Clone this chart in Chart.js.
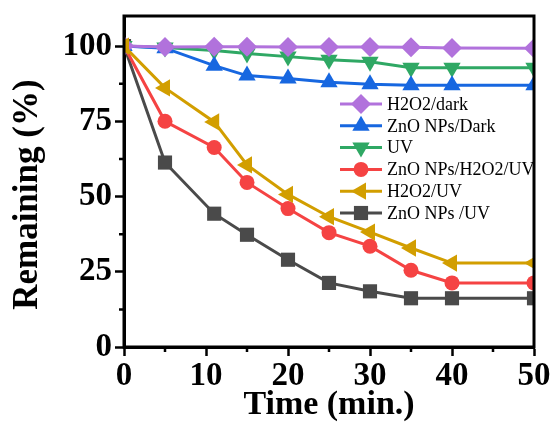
<!DOCTYPE html>
<html>
<head>
<meta charset="utf-8">
<script src="https://cdn.jsdelivr.net/npm/chart.js@4.4.1/dist/chart.umd.min.js"></script>
<style>
  html, body { margin: 0; padding: 0; background: #fff; }
  #chart { display: block; }
</style>
</head>
<body>
<canvas id="chart" width="553" height="435"></canvas>
<script>
// time points (min.)
const times = [0, 5, 11, 15, 20, 25, 30, 35, 40, 50];

// remaining (%) per treatment
const h2o2Dark  = [100, 99.7, 99.8, 99.8, 99.7, 99.7, 99.7, 99.6, 99.4, 99.3];
const znoDark   = [100, 99.3, 93.5, 90.2, 89.2, 88, 87.3, 87, 87, 87];
const uvOnly    = [100, 99.5, 98.5, 97.5, 96.5, 95.5, 94.8, 92.8, 92.8, 92.8];
const znoH2o2Uv = [100, 75, 66.3, 54.7, 46, 38, 33.5, 25.5, 21.3, 21.3];
const h2o2Uv    = [100, 86.1, 74.8, 60.5, 50.7, 43.3, 38.2, 32.9, 27.9, 27.9];
const znoUv     = [100, 61.3, 44.3, 37.3, 29, 21.3, 18.5, 16.2, 16.2, 16.2];

const seriesNames = ['H2O2/dark', 'ZnO NPs/Dark', 'UV', 'ZnO NPs/H2O2/UV', 'H2O2/UV', 'ZnO NPs /UV'];

// labeled ticks and the short unlabeled ones between them
const xTicks = [0, 10, 20, 30, 40, 50];
const xMinor = [5, 15, 25, 35, 45];
const yTicks = [0, 25, 50, 75, 100];
const yMinor = [12.5, 37.5, 62.5, 87.5];

const serif = "'Liberation Serif', 'Times New Roman', serif";
Chart.defaults.font.family = serif;
Chart.defaults.color = '#000';

const makeSet = (label, values, color, style, rotation, radius, order) => ({
  label,
  data: values.map((v, i) => ({ x: times[i], y: v })),
  borderColor: color,
  backgroundColor: color,
  borderWidth: 3,
  pointStyle: style,
  pointRotation: rotation,
  pointRadius: radius,
  pointBorderWidth: 0,
  pointBackgroundColor: color,
  tension: 0,
  order,
});

const datasets = [
  makeSet(seriesNames[0], h2o2Dark, '#b172dc', 'rectRot', 0, 10, 1),
  makeSet(seriesNames[1], znoDark, '#1767e0', 'triangle', 0, 10, 2),
  makeSet(seriesNames[2], uvOnly, '#2fa864', 'triangle', 180, 10, 3),
  makeSet(seriesNames[3], znoH2o2Uv, '#f54343', 'circle', 0, 7.5, 4),
  makeSet(seriesNames[4], h2o2Uv, '#d29e00', 'triangle', -90, 10, 0),
  makeSet(seriesNames[5], znoUv, '#4a4a4a', 'rect', 0, 10, 5),
];

// thick box around the plot + short minor ticks
const framePlugin = {
  id: 'frame',
  afterDatasetsDraw(chart) {
    const { ctx, chartArea: a, scales } = chart;
    ctx.save();
    ctx.strokeStyle = '#000';
    ctx.lineWidth = 3;
    ctx.strokeRect(a.left, a.top, a.right - a.left, a.bottom - a.top);
    ctx.lineWidth = 2.5;
    ctx.beginPath();
    xMinor.forEach((v) => {
      const px = scales.x.getPixelForValue(v);
      ctx.moveTo(px, a.bottom);
      ctx.lineTo(px, a.bottom + 5);
    });
    yMinor.forEach((v) => {
      const py = scales.y.getPixelForValue(v);
      ctx.moveTo(a.left, py);
      ctx.lineTo(a.left - 5, py);
    });
    ctx.stroke();
    ctx.restore();
  },
};

// legend drawn inside the plot, like the original
const insideLegend = {
  id: 'insideLegend',
  afterDraw(chart) {
    const { ctx } = chart;
    const x0 = 340, x1 = 382, textX = 387, y0 = 104, rowH = 21.8;
    ctx.save();
    chart.data.datasets.forEach((ds, i) => {
      const y = y0 + i * rowH;
      ctx.strokeStyle = ds.borderColor;
      ctx.lineWidth = 3;
      ctx.beginPath();
      ctx.moveTo(x0, y);
      ctx.lineTo(x1, y);
      ctx.stroke();
      ctx.fillStyle = ds.borderColor;
      Chart.helpers.drawPoint(ctx, {
        pointStyle: ds.pointStyle,
        rotation: ds.pointRotation,
        radius: ds.pointRadius,
        borderWidth: 0,
      }, (x0 + x1) / 2, y);
      ctx.fillStyle = '#000';
      ctx.font = '18px ' + serif;
      ctx.textBaseline = 'middle';
      ctx.textAlign = 'left';
      ctx.fillText(ds.label, textX, y + 1);
    });
    ctx.restore();
  },
};

new Chart(document.getElementById('chart'), {
  type: 'line',
  data: { datasets },
  options: {
    responsive: false,
    animation: false,
    layout: { padding: { top: 16, right: 19, left: 0, bottom: 0 } },
    plugins: { legend: { display: false }, tooltip: { enabled: false } },
    scales: {
      x: {
        type: 'linear',
        min: 0,
        max: 50,
        afterBuildTicks: (s) => { s.ticks = xTicks.map((v) => ({ value: v })); },
        afterFit: (s) => { s.height = 88; s.paddingLeft = 0; s.paddingRight = 0; },
        border: { color: '#000', width: 3 },
        grid: { drawOnChartArea: false, tickLength: 9, tickWidth: 2.5, tickColor: '#000' },
        ticks: {
          autoSkip: false,
          maxRotation: 0,
          padding: 1,
          font: { size: 33, weight: 'bold' },
        },
        title: {
          display: true,
          text: 'Time (min.)',
          font: { size: 34, weight: 'bold' },
          padding: { top: 0, bottom: 9 },
        },
      },
      y: {
        min: 0,
        max: 110,
        afterBuildTicks: (s) => { s.ticks = yTicks.map((v) => ({ value: v })); },
        afterFit: (s) => { s.width = 124; s.paddingTop = 0; s.paddingBottom = 0; },
        border: { color: '#000', width: 3 },
        grid: { drawOnChartArea: false, tickLength: 9, tickWidth: 2.5, tickColor: '#000' },
        ticks: {
          autoSkip: false,
          padding: 3,
          font: { size: 33, weight: 'bold' },
        },
        title: {
          display: true,
          // trailing spaces nudge the centred title down a little
          text: 'Remaining (%)   ',
          font: { size: 35, weight: 'bold' },
          padding: { top: 7, bottom: 0 },
        },
      },
    },
  },
  plugins: [framePlugin, insideLegend],
});
</script>
</body>
</html>
